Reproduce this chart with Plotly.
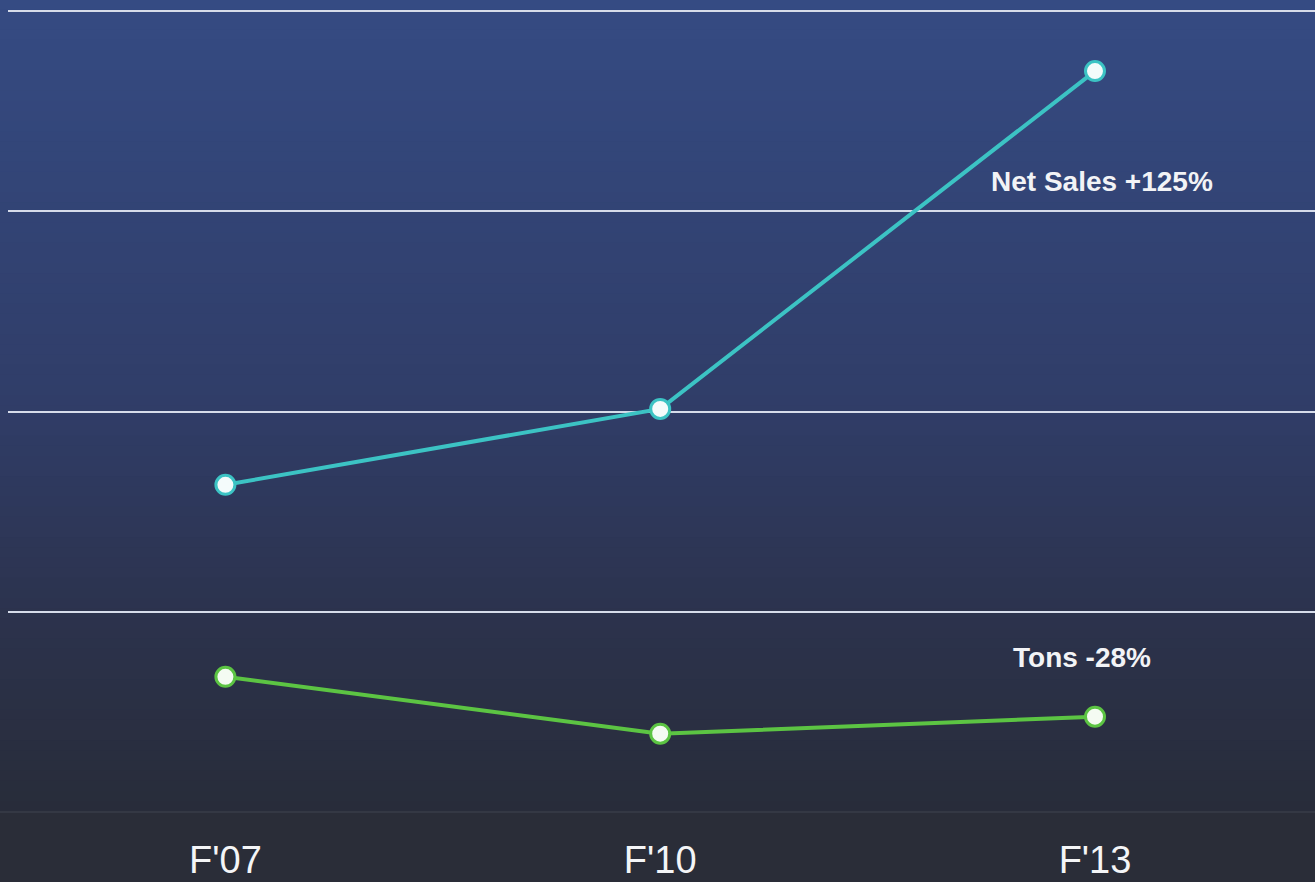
import plotly.graph_objects as go

categories = ["F'07", "F'10", "F'13"]
net_sales = [0.634, 1.013, 2.70]
tons = [-0.325, -0.609, -0.524]
net_label = "Net Sales +125%"
tons_label = "Tons -28%"

W, H = 1315, 882
fig = go.Figure()

fig.add_trace(go.Scatter(
    x=categories, y=net_sales, mode="lines+markers",
    line=dict(color="#3cc3c4", width=4),
    marker=dict(size=19, color="#f4fbfb", line=dict(color="#3cc3c4", width=3)),
    showlegend=False, hoverinfo="skip"))
fig.add_trace(go.Scatter(
    x=categories, y=tons, mode="lines+markers",
    line=dict(color="#5cc443", width=4),
    marker=dict(size=19, color="#f4fbf2", line=dict(color="#5cc443", width=3)),
    showlegend=False, hoverinfo="skip"))

# gradient background bands
def lerp(c1, c2, t):
    return tuple(round(a + (b - a) * t) for a, b in zip(c1, c2))

stops = [(0.0, (0x35, 0x4b, 0x83)), (0.5, (0x30, 0x3d, 0x68)), (0.75, (0x2c, 0x33, 0x4e)), (1.0, (0x28, 0x2c, 0x39))]
n = 80
shapes = []
for i in range(n):
    t = (i + 0.5) / n
    for j in range(len(stops) - 1):
        if stops[j][0] <= t <= stops[j + 1][0]:
            tt = (t - stops[j][0]) / (stops[j + 1][0] - stops[j][0])
            c = lerp(stops[j][1], stops[j + 1][1], tt)
            break
    y1 = 1 - i / n
    y0 = 1 - (i + 1) / n
    shapes.append(dict(type="rect", xref="paper", yref="paper", x0=-0.01, x1=1.0,
                       y0=y0 - 0.001, y1=y1 + 0.001, line=dict(width=0),
                       fillcolor="rgb(%d,%d,%d)" % c, layer="below"))
shapes.append(dict(type="line", xref="paper", yref="paper", x0=-0.01, x1=1, y0=0, y1=0,
                   line=dict(color="#383c48", width=1.5), layer="below"))

fig.add_annotation(x=2.017, y=2.15, xref="x", yref="y", text="<b>" + net_label + "</b>",
                   showarrow=False, font=dict(family="Liberation Sans, Arial", size=28, color="#f2f3f6"))
fig.add_annotation(x=1.97, y=-0.23, xref="x", yref="y", text="<b>" + tons_label + "</b>",
                   showarrow=False, font=dict(family="Liberation Sans, Arial", size=28, color="#f2f3f6"))

fig.update_layout(
    width=W, height=H,
    margin=dict(l=8, r=0, t=0, b=70),
    paper_bgcolor="#2a2d38", plot_bgcolor="rgba(0,0,0,0)",
    shapes=shapes,
    xaxis=dict(range=[-0.5, 2.506], showgrid=False, zeroline=False, showline=False,
               ticks="", tickfont=dict(family="Liberation Sans, Arial", size=38, color="#f4f5f7"),
               ticklabelstandoff=22, fixedrange=True),
    yaxis=dict(range=[-1.0, 3.055], tickvals=[0, 1, 2, 3], showticklabels=False,
               showgrid=True, gridcolor="#d6dcea", gridwidth=2, zeroline=False, showline=False,
               fixedrange=True),
)

fig.write_html("out.html", config={"displayModeBar": False})
